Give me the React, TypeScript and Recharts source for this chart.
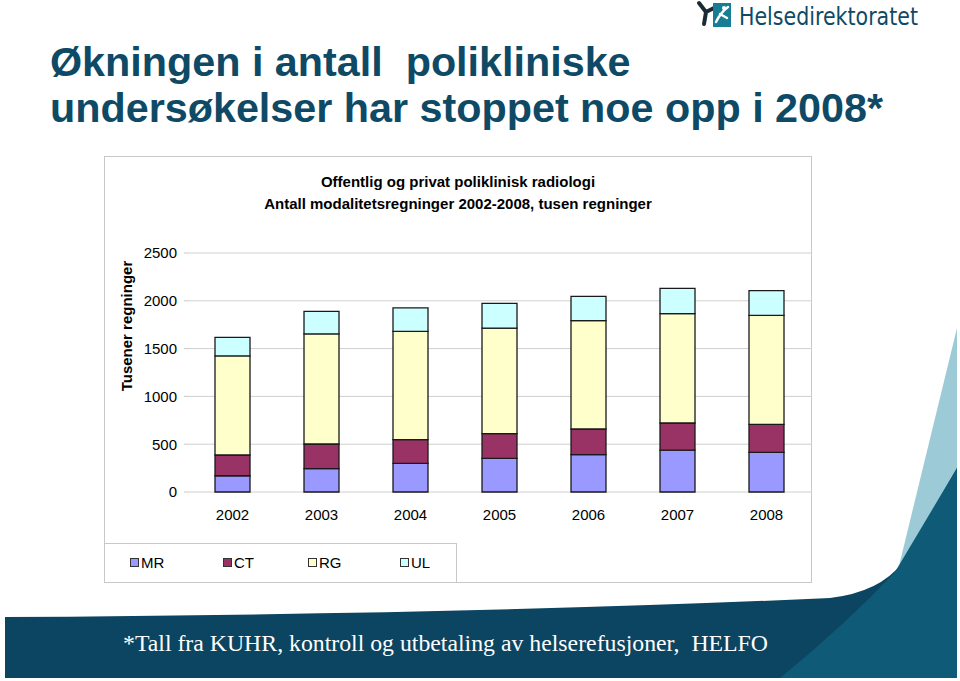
import { BarChart, Bar, XAxis, YAxis, CartesianGrid, Legend } from 'recharts';

const years = ['2002', '2003', '2004', '2005', '2006', '2007', '2008'];
const mr = [170, 244, 299, 352, 390, 438, 414];
const ct = [217, 258, 248, 258, 269, 284, 293];
const rg = [1036, 1151, 1133, 1105, 1133, 1143, 1140];
const ul = [194, 236, 245, 258, 254, 265, 259];
const yTicks = [0, 500, 1000, 1500, 2000, 2500];
const seriesNames = ['MR', 'CT', 'RG', 'UL'];
const seriesColors = ['#9999ff', '#993366', '#ffffcc', '#ccffff'];

const LEGEND_X = [26, 119, 204, 296];
const FONT = '"Liberation Sans", Arial, sans-serif';
const DARK = '#0e4a66';

const data = years.map((year, i) => ({
  year,
  MR: mr[i],
  CT: ct[i],
  RG: rg[i],
  UL: ul[i],
}));

// legend keeps series order (recharts sorts by name otherwise)
const renderLegend = (props: any) => {
  const items = [...(props.payload || [])].sort(
    (a: any, b: any) => seriesNames.indexOf(a.value) - seriesNames.indexOf(b.value)
  );
  return (
    <div style={{ position: 'relative', width: 351, height: 38 }}>
      {items.map((p: any, i: number) => (
        <div
          key={p.value}
          style={{
            position: 'absolute',
            left: LEGEND_X[i],
            top: 10,
            display: 'flex',
            alignItems: 'center',
            fontSize: 15,
            lineHeight: '17px',
            color: '#000',
            fontFamily: FONT,
          }}
        >
          <span
            style={{
              display: 'inline-block',
              width: 7,
              height: 7,
              background: p.color,
              border: '1px solid #333',
              marginRight: 2,
            }}
          />
          {p.value}
        </div>
      ))}
    </div>
  );
};

export default function App() {
  return (
    <div
      style={{
        position: 'absolute',
        left: 0,
        top: 0,
        width: 960,
        height: 681,
        background: '#fff',
        overflow: 'hidden',
        fontFamily: FONT,
      }}
    >
      {/* background: titles, logo, banner */}
      <svg width={960} height={681} style={{ position: 'absolute', left: 0, top: 0 }}>
        {/* logo */}
        <path d="M699 3 L706 12 L704 24 M706 12 L714 8" stroke="#1c2a33" strokeWidth={4} fill="none" strokeLinecap="round" />
        <rect x={713} y={3} width={18} height={24} fill="#177d95" />
        <path d="M716 22 Q721 12 728 7 M720 14 L727 18" stroke="#fff" strokeWidth={2.5} fill="none" strokeLinecap="round" />
        <circle cx={724} cy={8} r={2} fill="#fff" />
        <text x={739} y={25} fontFamily='"DejaVu Sans", sans-serif' fontSize={25} fill={DARK} textLength={179} lengthAdjust="spacingAndGlyphs">
          Helsedirektoratet
        </text>

        {/* main title */}
        <text x={50} y={76} fontFamily={FONT} fontWeight="bold" fontSize={41.3} fill={DARK} style={{ whiteSpace: 'pre' }}>
          {'Økningen i antall  polikliniske'}
        </text>
        <text x={50} y={122} fontFamily={FONT} fontWeight="bold" fontSize={41.3} fill={DARK}>
          undersøkelser har stoppet noe opp i 2008*
        </text>

        {/* chart title */}
        <text x={458} y={187} textAnchor="middle" fontFamily={FONT} fontWeight="bold" fontSize={15} fill="#000">
          Offentlig og privat poliklinisk radiologi
        </text>
        <text x={458} y={209} textAnchor="middle" fontFamily={FONT} fontWeight="bold" fontSize={15} fill="#000">
          Antall modalitetsregninger 2002-2008, tusen regninger
        </text>

        {/* y axis title */}
        <text
          x={0}
          y={0}
          transform="translate(132 326) rotate(-90)"
          textAnchor="middle"
          fontFamily={FONT}
          fontWeight="bold"
          fontSize={15}
          fill="#000"
        >
          Tusener regninger
        </text>

        {/* banner */}
        <polygon points="957,328 957,470 899,566" fill="#9ccad6" />
        <path
          d="M5 617 Q480 614 830 598 Q880 592 902 563 L957 468 L957 678 L5 678 Z"
          fill="#0b4561"
        />
        <path d="M780 678 Q845 625 895 572 L957 468 L957 678 Z" fill="#0f5a76" />
        <text
          x={123}
          y={651}
          fontFamily='"Liberation Serif", "Times New Roman", serif'
          fontSize={24}
          fill="#fff"
          textLength={645}
          lengthAdjust="spacingAndGlyphs"
          style={{ whiteSpace: 'pre' }}
        >
          {'*Tall fra KUHR, kontroll og utbetaling av helserefusjoner,  HELFO'}
        </text>
      </svg>

      {/* chart frame */}
      <div
        style={{
          position: 'absolute',
          left: 104,
          top: 156,
          width: 706,
          height: 425,
          border: '1px solid #c8c8c8',
        }}
      />
      {/* legend box */}
      <div
        style={{
          position: 'absolute',
          left: 104,
          top: 543,
          width: 351,
          height: 38,
          border: '1px solid #c8c8c8',
        }}
      />

      <div style={{ position: 'absolute', left: 104, top: 156 }}>
        <BarChart width={707} height={426} data={data} margin={{ top: 97, right: 0, left: 44, bottom: 60 }}>
          <CartesianGrid horizontal vertical={false} stroke="#cfcfcf" />
          <XAxis
            xAxisId="edge"
            type="number"
            domain={[0, 7]}
            ticks={[0, 1, 2, 3, 4, 5, 6, 7]}
            tick={false}
            axisLine={{ stroke: '#c8c8c8' }}
            tickLine={{ stroke: '#c8c8c8' }}
            tickSize={5}
            height={0}
          />
          <XAxis
            dataKey="year"
            axisLine={false}
            tickLine={false}
            tickSize={0}
            tickMargin={17}
            height={30}
            tick={{ fill: '#000', fontSize: 15, fontFamily: FONT }}
          />
          <YAxis
            domain={[0, 2500]}
            ticks={yTicks}
            width={40}
            axisLine={false}
            tickLine={{ stroke: '#c8c8c8' }}
            tickSize={4}
            tickMargin={7}
            tick={{ fill: '#000', fontSize: 15, fontFamily: FONT }}
          />
          <Legend
            content={renderLegend}
            layout="horizontal"
            verticalAlign="middle"
            align="center"
            wrapperStyle={{ position: 'absolute', left: 0, top: 388, width: 351, height: 38 }}
          />
          {seriesNames.map((name, i) => (
            <Bar
              key={name}
              dataKey={name}
              name={name}
              stackId="a"
              fill={seriesColors[i]}
              stroke="#1a1a1a"
              strokeWidth={1.3}
              barSize={35}
              isAnimationActive={false}
            />
          ))}
        </BarChart>
      </div>
    </div>
  );
}
